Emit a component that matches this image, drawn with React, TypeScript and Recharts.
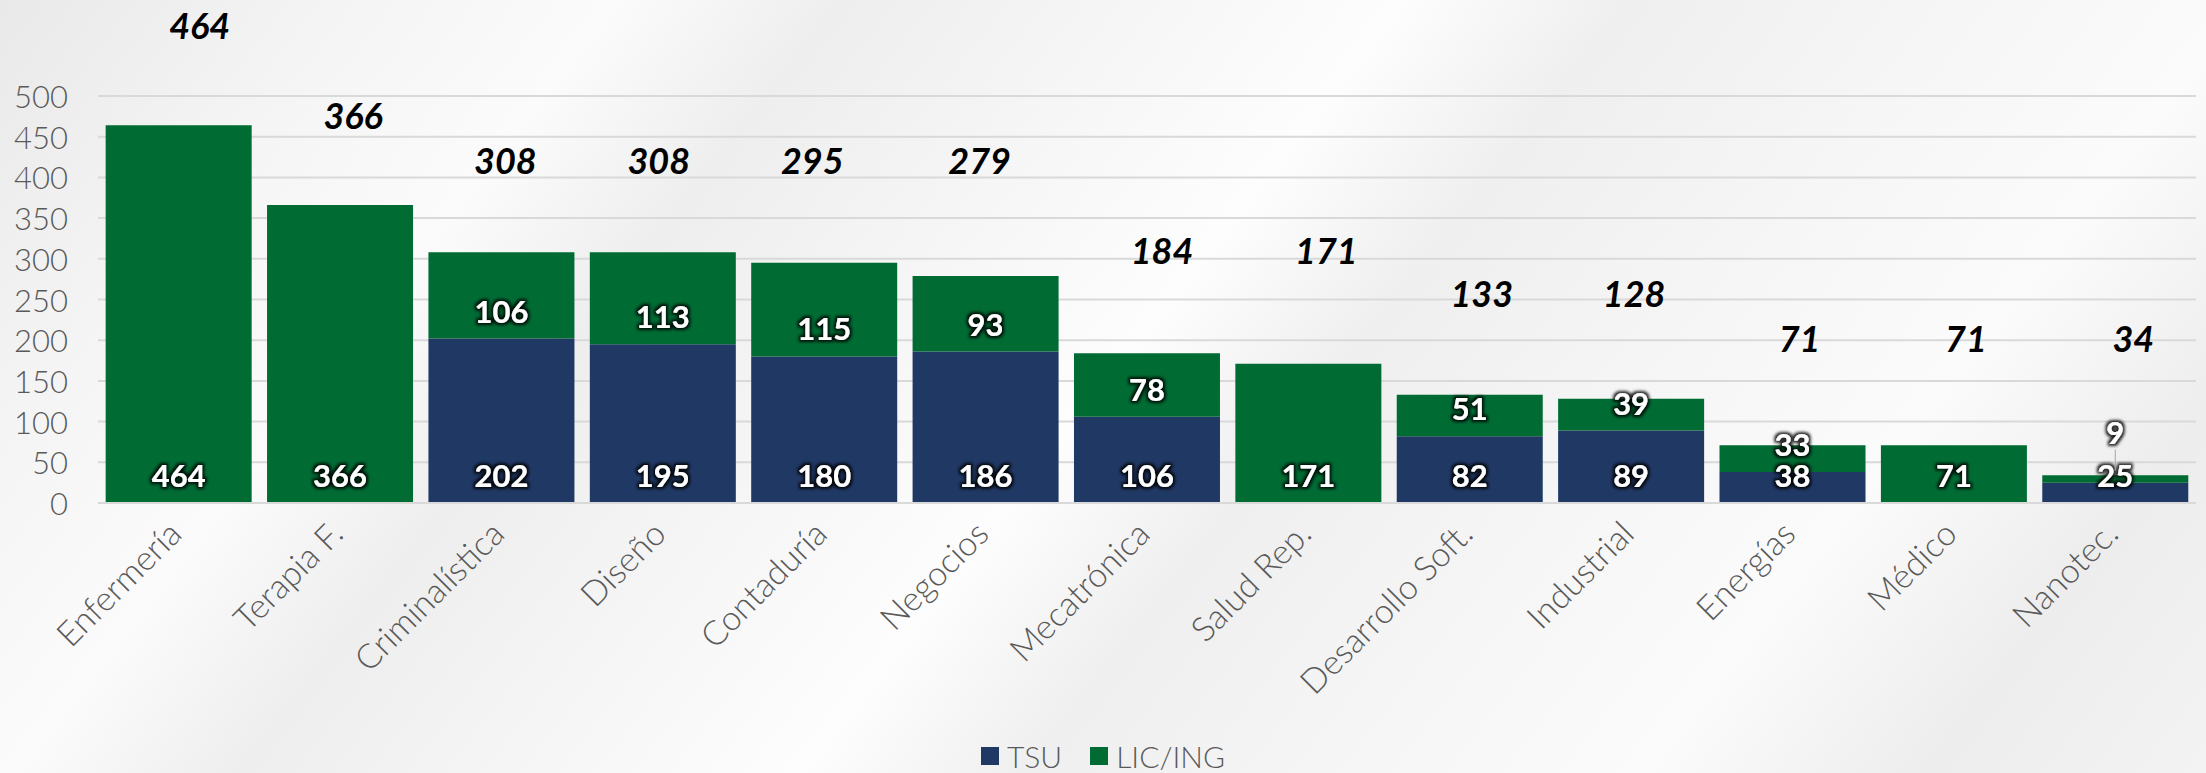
import React from 'react';
import { BarChart, Bar, XAxis, YAxis, CartesianGrid, LabelList } from 'recharts';

// ---------- data ----------
const categories = [
  'Enfermería', 'Terapia F.', 'Criminalística', 'Diseño', 'Contaduría', 'Negocios',
  'Mecatrónica', 'Salud Rep.', 'Desarrollo Soft.', 'Industrial', 'Energías', 'Médico', 'Nanotec.',
];
const tsuValues = [0, 0, 202, 195, 180, 186, 106, 0, 82, 89, 38, 0, 25];
const licIngValues = [464, 366, 106, 113, 115, 93, 78, 171, 51, 39, 33, 71, 9];
const totalValues = [464, 366, 308, 308, 295, 279, 184, 171, 133, 128, 71, 71, 34];
const yTicks = [0, 50, 100, 150, 200, 250, 300, 350, 400, 450, 500];
const seriesNames = ['TSU', 'LIC/ING'];

const data = categories.map((c, i) => ({
  cat: c,
  tsu: tsuValues[i],
  lic: licIngValues[i],
  total: totalValues[i],
}));

// ---------- layout / style ----------
const W = 2206;
const H = 773;
const MARGIN = { top: 96, right: 10, left: 0, bottom: 70 };
const X_AXIS_H = 200;
const PLOT_BOTTOM = H - MARGIN.bottom - X_AXIS_H;
const PLOT_H = PLOT_BOTTOM - MARGIN.top;
const Y_MAX = 500;
const NAVY = '#203864';
const GREEN = '#006B33';
const GRAY_TEXT = '#595959';
const GRID = '#d9d9d9';
const FONT = 'Lato, "Open Sans", "DejaVu Sans", sans-serif';

// where the (manually placed) total labels sit, in axis units, and their horizontal nudge
const TOTAL_LABEL_LEVEL = [587, 477, 421, 421, 421, 421, 311, 311, 258, 258, 203, 203, 203];
const TOTAL_LABEL_DX = [21, 13, 4, -4, -12, -6, 15, 18, 12, 3, 7, 12, 18];
const LIC_LABEL_NUDGE: Record<number, number> = { 12: -23 };

const innerTextProps = {
  fill: '#ffffff',
  fontFamily: FONT,
  fontWeight: 700,
  fontSize: 31,
  textAnchor: 'middle' as const,
  dominantBaseline: 'central' as const,
  filter: 'url(#lblGlow)',
};

const BaseLabel = (nudges: Record<number, number>) => (props: any) => {
  const { x, y, width, height, value, index } = props;
  if (!value) return null;
  const cx = Number(x) + Number(width) / 2;
  const base = Number(y) + Number(height);
  const nudge = nudges[index] || 0;
  const cy = base - 28 + nudge;
  return (
    <g>
      {nudge !== 0 && (
        <line x1={cx} x2={cx} y1={cy + 18} y2={base - 12} stroke="#a6a6a6" strokeWidth={1} />
      )}
      <text x={cx} y={cy} {...innerTextProps}>{value}</text>
    </g>
  );
};

const TotalLabel = (props: any) => {
  const { x, width, index } = props;
  const cx = Number(x) + Number(width) / 2 + TOTAL_LABEL_DX[index];
  const cy = PLOT_BOTTOM - (TOTAL_LABEL_LEVEL[index] * PLOT_H) / Y_MAX;
  return (
    <text
      x={cx}
      y={cy}
      fill="#000"
      fontFamily={FONT}
      fontWeight={700}
      fontStyle="italic"
      fontSize={36}
      textAnchor="middle"
      dominantBaseline="central"
    >
      {totalValues[index]}
    </text>
  );
};

const CatTick = (props: any) => {
  const { x, y, payload } = props;
  return (
    <text
      transform={`translate(${x + 5},${y + 33}) rotate(-45)`}
      textAnchor="end"
      fontSize={34}
      fontWeight={300}
      fill={GRAY_TEXT}
      fontFamily={FONT}
    >
      {payload.value}
    </text>
  );
};

const YTick = (props: any) => {
  const { x, y, payload } = props;
  return (
    <text x={x} y={y} textAnchor="end" dominantBaseline="central" fontSize={31} fontWeight={300} fill={GRAY_TEXT} fontFamily={FONT}>
      {payload.value}
    </text>
  );
};

export default function App() {
  return (
    <div
      style={{
        position: 'absolute',
        left: 0,
        top: 0,
        width: W,
        height: H,
        overflow: 'hidden',
        background:
          'linear-gradient(128deg, #e9e9e9 0%, #f4f4f4 12%, #fbfbfb 22%, #eeeeee 30%, #f7f7f7 42%, #fdfdfd 50%, #efefef 58%, #f6f6f6 70%, #fbfbfb 80%, #ededed 90%, #f3f3f3 100%)',
      }}
    >
      <svg width={0} height={0} style={{ position: 'absolute' }}>
        <defs>
          <filter id="lblGlow" x="-30%" y="-30%" width="160%" height="160%">
            <feMorphology in="SourceAlpha" operator="dilate" radius={1.5} result="dil" />
            <feGaussianBlur in="dil" stdDeviation={1.8} result="blur" />
            <feFlood floodColor="#000000" floodOpacity={0.85} />
            <feComposite in2="blur" operator="in" result="shadow" />
            <feMerge>
              <feMergeNode in="shadow" />
              <feMergeNode in="SourceGraphic" />
            </feMerge>
          </filter>
        </defs>
      </svg>
      <BarChart width={W} height={H} data={data} margin={MARGIN} barCategoryGap="4.75%">
        <CartesianGrid vertical={false} stroke={GRID} strokeWidth={2} />
        <XAxis
          dataKey="cat"
          interval={0}
          height={X_AXIS_H}
          tickLine={false}
          tickSize={0}
          tickMargin={0}
          axisLine={{ stroke: GRID, strokeWidth: 2 }}
          tick={<CatTick />}
        />
        <YAxis
          width={98}
          domain={[0, Y_MAX]}
          ticks={yTicks}
          interval={0}
          axisLine={false}
          tickLine={false}
          tickSize={0}
          tickMargin={30}
          tick={<YTick />}
        />
        <Bar dataKey="tsu" name={seriesNames[0]} stackId="s" fill={NAVY} isAnimationActive={false}>
          <LabelList dataKey="tsu" content={BaseLabel({})} />
        </Bar>
        <Bar dataKey="lic" name={seriesNames[1]} stackId="s" fill={GREEN} isAnimationActive={false}>
          <LabelList dataKey="lic" content={BaseLabel(LIC_LABEL_NUDGE)} />
          <LabelList dataKey="total" content={TotalLabel} />
        </Bar>
      </BarChart>
      <div
        style={{
          position: 'absolute',
          top: 741,
          left: 0,
          width: W,
          height: 30,
          display: 'flex',
          justifyContent: 'center',
          alignItems: 'center',
          fontFamily: FONT,
          fontSize: 30,
          fontWeight: 300,
          color: GRAY_TEXT,
          lineHeight: '30px',
        }}
      >
        {seriesNames.map((n, i) => (
          <div key={n} style={{ display: 'flex', alignItems: 'center', marginRight: i === 0 ? 28 : 0 }}>
            <span style={{ width: 18, height: 18, background: i === 0 ? NAVY : GREEN, marginRight: 8, display: 'inline-block' }} />
            <span>{n}</span>
          </div>
        ))}
      </div>
    </div>
  );
}
